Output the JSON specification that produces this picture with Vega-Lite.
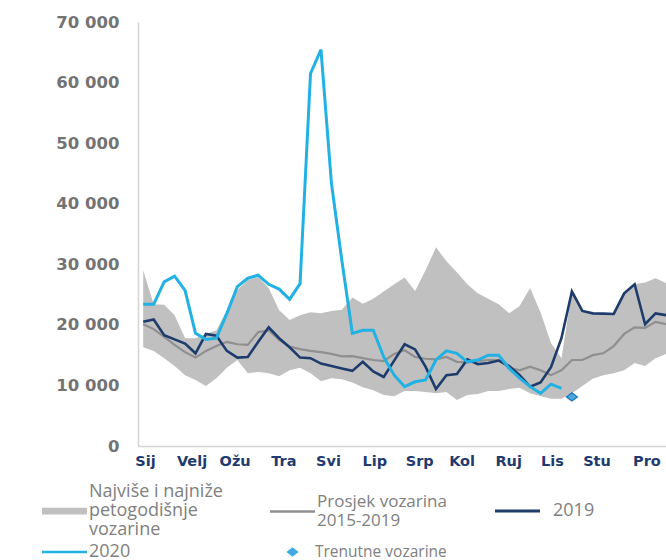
{
  "$schema": "https://vega.github.io/schema/vega-lite/v6.json",
  "width": 528,
  "height": 424,
  "autosize": {"type": "none"},
  "padding": {"left": 138, "top": 22, "right": 0, "bottom": 114},
  "background": "white",
  "config": {"view": {"stroke": null}, "font": "DejaVu Sans"},
  "datasets": {
    "band": [
      {"w": 0, "lo": 16300, "hi": 29000}, {"w": 1, "lo": 15700, "hi": 23400}, {"w": 2, "lo": 14500, "hi": 23300},
      {"w": 3, "lo": 13200, "hi": 21600}, {"w": 4, "lo": 11700, "hi": 17800}, {"w": 5, "lo": 10900, "hi": 17800},
      {"w": 6, "lo": 9900, "hi": 18500}, {"w": 7, "lo": 11200, "hi": 19100}, {"w": 8, "lo": 12900, "hi": 22400},
      {"w": 9, "lo": 14200, "hi": 25700}, {"w": 10, "lo": 12000, "hi": 27400}, {"w": 11, "lo": 12200, "hi": 27900},
      {"w": 12, "lo": 12000, "hi": 26100}, {"w": 13, "lo": 11500, "hi": 22400}, {"w": 14, "lo": 12500, "hi": 20800},
      {"w": 15, "lo": 12900, "hi": 21600}, {"w": 16, "lo": 12000, "hi": 22100}, {"w": 17, "lo": 10700, "hi": 21900},
      {"w": 18, "lo": 11200, "hi": 22300}, {"w": 19, "lo": 11000, "hi": 22500}, {"w": 20, "lo": 10500, "hi": 24500},
      {"w": 21, "lo": 9700, "hi": 23500}, {"w": 22, "lo": 9200, "hi": 24300}, {"w": 23, "lo": 8400, "hi": 25500},
      {"w": 24, "lo": 8200, "hi": 26700}, {"w": 25, "lo": 9100, "hi": 27800}, {"w": 26, "lo": 9100, "hi": 25600},
      {"w": 27, "lo": 8900, "hi": 29000}, {"w": 28, "lo": 8700, "hi": 32800}, {"w": 29, "lo": 8900, "hi": 30500},
      {"w": 30, "lo": 7600, "hi": 28700}, {"w": 31, "lo": 8400, "hi": 26700}, {"w": 32, "lo": 8600, "hi": 25200},
      {"w": 33, "lo": 9100, "hi": 24300}, {"w": 34, "lo": 9100, "hi": 23400}, {"w": 35, "lo": 9400, "hi": 21900},
      {"w": 36, "lo": 9600, "hi": 23100}, {"w": 37, "lo": 8700, "hi": 26100}, {"w": 38, "lo": 8200, "hi": 22100},
      {"w": 39, "lo": 7800, "hi": 17000}, {"w": 40, "lo": 7800, "hi": 14500}, {"w": 41, "lo": 8700, "hi": 25500},
      {"w": 42, "lo": 9900, "hi": 22300}, {"w": 43, "lo": 11100, "hi": 21900}, {"w": 44, "lo": 11700, "hi": 21850},
      {"w": 45, "lo": 12000, "hi": 21800}, {"w": 46, "lo": 12500, "hi": 25200}, {"w": 47, "lo": 13700, "hi": 26700},
      {"w": 48, "lo": 13200, "hi": 27000}, {"w": 49, "lo": 14500, "hi": 27700}, {"w": 50, "lo": 15200, "hi": 26900}
    ],
    "lines": [
      {"s": "avg", "w": 0, "v": 20100}, {"s": "avg", "w": 1, "v": 19300}, {"s": "avg", "w": 2, "v": 18000},
      {"s": "avg", "w": 3, "v": 16700}, {"s": "avg", "w": 4, "v": 15500}, {"s": "avg", "w": 5, "v": 14600},
      {"s": "avg", "w": 6, "v": 15700}, {"s": "avg", "w": 7, "v": 16500}, {"s": "avg", "w": 8, "v": 17200},
      {"s": "avg", "w": 9, "v": 16800}, {"s": "avg", "w": 10, "v": 16700}, {"s": "avg", "w": 11, "v": 18800},
      {"s": "avg", "w": 12, "v": 19100}, {"s": "avg", "w": 13, "v": 17500}, {"s": "avg", "w": 14, "v": 16400},
      {"s": "avg", "w": 15, "v": 16000}, {"s": "avg", "w": 16, "v": 15700}, {"s": "avg", "w": 17, "v": 15500},
      {"s": "avg", "w": 18, "v": 15200}, {"s": "avg", "w": 19, "v": 14800}, {"s": "avg", "w": 20, "v": 14850},
      {"s": "avg", "w": 21, "v": 14500}, {"s": "avg", "w": 22, "v": 14200}, {"s": "avg", "w": 23, "v": 14000},
      {"s": "avg", "w": 24, "v": 15200}, {"s": "avg", "w": 25, "v": 15800}, {"s": "avg", "w": 26, "v": 14700},
      {"s": "avg", "w": 27, "v": 14400}, {"s": "avg", "w": 28, "v": 14300}, {"s": "avg", "w": 29, "v": 14700},
      {"s": "avg", "w": 30, "v": 13900}, {"s": "avg", "w": 31, "v": 13800}, {"s": "avg", "w": 32, "v": 14000},
      {"s": "avg", "w": 33, "v": 14200}, {"s": "avg", "w": 34, "v": 14200}, {"s": "avg", "w": 35, "v": 12900},
      {"s": "avg", "w": 36, "v": 12500}, {"s": "avg", "w": 37, "v": 13100}, {"s": "avg", "w": 38, "v": 12500},
      {"s": "avg", "w": 39, "v": 11700}, {"s": "avg", "w": 40, "v": 12500}, {"s": "avg", "w": 41, "v": 14200},
      {"s": "avg", "w": 42, "v": 14200}, {"s": "avg", "w": 43, "v": 15000}, {"s": "avg", "w": 44, "v": 15300},
      {"s": "avg", "w": 45, "v": 16500}, {"s": "avg", "w": 46, "v": 18500}, {"s": "avg", "w": 47, "v": 19600},
      {"s": "avg", "w": 48, "v": 19500}, {"s": "avg", "w": 49, "v": 20500}, {"s": "avg", "w": 50, "v": 20100},
      {"s": "2019", "w": 0, "v": 20500}, {"s": "2019", "w": 1, "v": 20900}, {"s": "2019", "w": 2, "v": 18300},
      {"s": "2019", "w": 3, "v": 17600}, {"s": "2019", "w": 4, "v": 16900}, {"s": "2019", "w": 5, "v": 15300},
      {"s": "2019", "w": 6, "v": 18500}, {"s": "2019", "w": 7, "v": 18200}, {"s": "2019", "w": 8, "v": 15700},
      {"s": "2019", "w": 9, "v": 14600}, {"s": "2019", "w": 10, "v": 14700}, {"s": "2019", "w": 11, "v": 17200},
      {"s": "2019", "w": 12, "v": 19600}, {"s": "2019", "w": 13, "v": 17800}, {"s": "2019", "w": 14, "v": 16300},
      {"s": "2019", "w": 15, "v": 14600}, {"s": "2019", "w": 16, "v": 14500}, {"s": "2019", "w": 17, "v": 13600},
      {"s": "2019", "w": 18, "v": 13200}, {"s": "2019", "w": 19, "v": 12800}, {"s": "2019", "w": 20, "v": 12400},
      {"s": "2019", "w": 21, "v": 13900}, {"s": "2019", "w": 22, "v": 12300}, {"s": "2019", "w": 23, "v": 11400},
      {"s": "2019", "w": 24, "v": 14100}, {"s": "2019", "w": 25, "v": 16800}, {"s": "2019", "w": 26, "v": 15950},
      {"s": "2019", "w": 27, "v": 13100}, {"s": "2019", "w": 28, "v": 9400}, {"s": "2019", "w": 29, "v": 11700},
      {"s": "2019", "w": 30, "v": 11900}, {"s": "2019", "w": 31, "v": 14300}, {"s": "2019", "w": 32, "v": 13500},
      {"s": "2019", "w": 33, "v": 13700}, {"s": "2019", "w": 34, "v": 14100}, {"s": "2019", "w": 35, "v": 13200},
      {"s": "2019", "w": 36, "v": 11700}, {"s": "2019", "w": 37, "v": 9800}, {"s": "2019", "w": 38, "v": 10500},
      {"s": "2019", "w": 39, "v": 13000}, {"s": "2019", "w": 40, "v": 17800}, {"s": "2019", "w": 41, "v": 25500},
      {"s": "2019", "w": 42, "v": 22300}, {"s": "2019", "w": 43, "v": 21900}, {"s": "2019", "w": 44, "v": 21850},
      {"s": "2019", "w": 45, "v": 21800}, {"s": "2019", "w": 46, "v": 25200}, {"s": "2019", "w": 47, "v": 26700},
      {"s": "2019", "w": 48, "v": 20100}, {"s": "2019", "w": 49, "v": 21900}, {"s": "2019", "w": 50, "v": 21600},
      {"s": "2020", "w": 0, "v": 23400}, {"s": "2020", "w": 1, "v": 23400}, {"s": "2020", "w": 2, "v": 27100},
      {"s": "2020", "w": 3, "v": 28050}, {"s": "2020", "w": 4, "v": 25700}, {"s": "2020", "w": 5, "v": 18600},
      {"s": "2020", "w": 6, "v": 17600}, {"s": "2020", "w": 7, "v": 17800}, {"s": "2020", "w": 8, "v": 21900},
      {"s": "2020", "w": 9, "v": 26300}, {"s": "2020", "w": 10, "v": 27700}, {"s": "2020", "w": 11, "v": 28200},
      {"s": "2020", "w": 12, "v": 26700}, {"s": "2020", "w": 13, "v": 25900}, {"s": "2020", "w": 14, "v": 24200},
      {"s": "2020", "w": 15, "v": 26800}, {"s": "2020", "w": 16, "v": 61500}, {"s": "2020", "w": 17, "v": 65450},
      {"s": "2020", "w": 18, "v": 43400}, {"s": "2020", "w": 19, "v": 30600}, {"s": "2020", "w": 20, "v": 18600},
      {"s": "2020", "w": 21, "v": 19100}, {"s": "2020", "w": 22, "v": 19100}, {"s": "2020", "w": 23, "v": 14700},
      {"s": "2020", "w": 24, "v": 11700}, {"s": "2020", "w": 25, "v": 9800}, {"s": "2020", "w": 26, "v": 10600},
      {"s": "2020", "w": 27, "v": 10900}, {"s": "2020", "w": 28, "v": 14200}, {"s": "2020", "w": 29, "v": 15700},
      {"s": "2020", "w": 30, "v": 15300}, {"s": "2020", "w": 31, "v": 13900}, {"s": "2020", "w": 32, "v": 14200},
      {"s": "2020", "w": 33, "v": 15000}, {"s": "2020", "w": 34, "v": 15000}, {"s": "2020", "w": 35, "v": 12800},
      {"s": "2020", "w": 36, "v": 11200}, {"s": "2020", "w": 37, "v": 9800}, {"s": "2020", "w": 38, "v": 8700},
      {"s": "2020", "w": 39, "v": 10200}, {"s": "2020", "w": 40, "v": 9500}
    ],
    "cur": [{"w": 41, "v": 8100}]
  },
  "encoding": {
    "x": {
      "field": "w", "type": "quantitative",
      "scale": {"domain": [-0.5, 50], "nice": false, "zero": false},
      "axis": {
        "title": null, "grid": false, "ticks": false,
        "values": [0.16, 4.62, 8.74, 13.4, 17.67, 22.1, 26.4, 30.45, 34.9, 39.1, 43.35, 48.13],
        "labelExpr": "datum.value < 2 ? 'Sij' : datum.value < 6 ? 'Velj' : datum.value < 10 ? 'Ožu' : datum.value < 15 ? 'Tra' : datum.value < 20 ? 'Svi' : datum.value < 24 ? 'Lip' : datum.value < 28 ? 'Srp' : datum.value < 32 ? 'Kol' : datum.value < 37 ? 'Ruj' : datum.value < 41 ? 'Lis' : datum.value < 46 ? 'Stu' : 'Pro'",
        "labelFont": "DejaVu Sans", "labelFontWeight": "bold", "labelFontSize": 14.5, "labelColor": "#1f3b6f",
        "labelPadding": 8, "labelOverlap": false, "labelFlush": false,
        "domainColor": "#d4d4d4", "domainWidth": 1.5
      }
    }
  },
  "layer": [
    {
      "data": {"name": "band"},
      "mark": {"type": "area", "opacity": 1},
      "encoding": {
        "y": {
          "field": "lo", "type": "quantitative",
          "scale": {"domain": [0, 70000], "nice": false},
          "axis": {
            "title": null, "grid": false, "ticks": false,
            "values": [0, 10000, 20000, 30000, 40000, 50000, 60000, 70000],
            "labelExpr": "replace(format(datum.value, ','), ',', ' ')",
            "labelFont": "DejaVu Sans", "labelFontWeight": "bold", "labelFontSize": 16.5, "labelColor": "#737373",
            "labelPadding": 19, "domainColor": "#d4d4d4", "domainWidth": 1.5
          }
        },
        "y2": {"field": "hi"},
        "color": {
          "datum": "band", "type": "nominal",
          "scale": {
            "domain": ["band", "avg", "2019", "2020", "cur"],
            "range": ["#c0c0c0", "#8f8f8f", "#1d3c6c", "#21b1e3", "#45a9e1"]
          },
          "legend": {
            "orient": "none", "legendX": -96, "legendY": 461, "direction": "horizontal", "columns": 3,
            "title": null, "padding": 0, "gridAlign": "each", "columnPadding": 42, "rowPadding": 4,
            "labelFont": "Open Sans", "labelFontSize": 18, "labelColor": "#808080", "labelLimit": 400,
            "labelOffset": 0, "symbolSize": 2025,
            "labelExpr": "datum.value == 'band' ? ['Najviše i najniže', 'petogodišnje', 'vozarine'] : datum.value == 'avg' ? ['Prosjek vozarina', '2015-2019'] : datum.value == 'cur' ? 'Trenutne vozarine' : datum.label",
            "encode": {
              "symbols": {
                "update": {
                  "shape": {"signal": "datum.value == 'band' ? 'M-1,-0.15H1V0.15H-1Z' : datum.value == 'cur' ? 'M0,-0.18L0.23,0L0,0.18L-0.23,0Z' : 'stroke'"},
                  "fill": {"signal": "datum.value == 'band' ? '#c0c0c0' : datum.value == 'cur' ? '#45a9e1' : 'transparent'"},
                  "stroke": {"signal": "datum.value == 'band' ? 'transparent' : datum.value == 'cur' ? '#2370b8' : datum.value == 'avg' ? '#8f8f8f' : datum.value == '2019' ? '#1d3c6c' : '#21b1e3'"},
                  "strokeWidth": {"signal": "datum.value == 'cur' ? 1.2 : datum.value == 'band' ? 0 : datum.value == '2019' ? 3 : 2.5"},
                  "size": {"value": 2025},
                  "opacity": {"value": 1},
                  "x": {"value": 22.5},
                  "y": {"signal": "datum.size * 0.5 + (datum.value == 'band' ? 19 : datum.value == 'avg' ? 9.5 : 0)"}
                }
              },
              "labels": {"update": {"lineHeight": {"value": 19}, "x": {"signal": "datum.value == 'cur' ? 45 : datum.value == '2019' ? 58 : 47"}, "fontSize": {"signal": "datum.value == 'cur' ? 15.5 : datum.value == 'avg' ? 17 : 18"}}}
            }
          }
        }
      }
    },
    {
      "data": {"name": "lines"},
      "mark": {"type": "line", "strokeJoin": "miter"},
      "encoding": {
        "y": {"field": "v", "type": "quantitative"},
        "color": {
          "field": "s", "type": "nominal",
          "legend": {
            "orient": "none", "legendX": -96, "legendY": 461, "direction": "horizontal", "columns": 3,
            "title": null, "padding": 0, "gridAlign": "each", "columnPadding": 42, "rowPadding": 4,
            "labelFont": "Open Sans", "labelFontSize": 18, "labelColor": "#808080", "labelLimit": 400,
            "labelOffset": 0, "symbolSize": 2025,
            "labelExpr": "datum.value == 'band' ? ['Najviše i najniže', 'petogodišnje', 'vozarine'] : datum.value == 'avg' ? ['Prosjek vozarina', '2015-2019'] : datum.value == 'cur' ? 'Trenutne vozarine' : datum.label",
            "encode": {
              "symbols": {
                "update": {
                  "shape": {"signal": "datum.value == 'band' ? 'M-1,-0.15H1V0.15H-1Z' : datum.value == 'cur' ? 'M0,-0.18L0.23,0L0,0.18L-0.23,0Z' : 'stroke'"},
                  "fill": {"signal": "datum.value == 'band' ? '#c0c0c0' : datum.value == 'cur' ? '#45a9e1' : 'transparent'"},
                  "stroke": {"signal": "datum.value == 'band' ? 'transparent' : datum.value == 'cur' ? '#2370b8' : datum.value == 'avg' ? '#8f8f8f' : datum.value == '2019' ? '#1d3c6c' : '#21b1e3'"},
                  "strokeWidth": {"signal": "datum.value == 'cur' ? 1.2 : datum.value == 'band' ? 0 : datum.value == '2019' ? 3 : 2.5"},
                  "size": {"value": 2025},
                  "opacity": {"value": 1},
                  "x": {"value": 22.5},
                  "y": {"signal": "datum.size * 0.5 + (datum.value == 'band' ? 19 : datum.value == 'avg' ? 9.5 : 0)"}
                }
              },
              "labels": {"update": {"lineHeight": {"value": 19}, "x": {"signal": "datum.value == 'cur' ? 45 : datum.value == '2019' ? 58 : 47"}, "fontSize": {"signal": "datum.value == 'cur' ? 15.5 : datum.value == 'avg' ? 17 : 18"}}}
            }
          }
        },
        "strokeWidth": {
          "field": "s", "type": "nominal",
          "scale": {"domain": ["avg", "2019", "2020"], "range": [2.2, 3, 3]},
          "legend": null
        },
        "order": {"field": "w", "type": "quantitative"}
      }
    },
    {
      "data": {"name": "cur"},
      "mark": {"type": "point", "shape": "M0,-0.75L1,0L0,0.75L-1,0Z", "filled": true, "size": 121, "stroke": "#2370b8", "strokeWidth": 1.2, "opacity": 1},
      "encoding": {
        "y": {"field": "v", "type": "quantitative"},
        "color": {
          "datum": "cur", "type": "nominal",
          "legend": {
            "orient": "none", "legendX": -96, "legendY": 461, "direction": "horizontal", "columns": 3,
            "title": null, "padding": 0, "gridAlign": "each", "columnPadding": 42, "rowPadding": 4,
            "labelFont": "Open Sans", "labelFontSize": 18, "labelColor": "#808080", "labelLimit": 400,
            "labelOffset": 0, "symbolSize": 2025,
            "labelExpr": "datum.value == 'band' ? ['Najviše i najniže', 'petogodišnje', 'vozarine'] : datum.value == 'avg' ? ['Prosjek vozarina', '2015-2019'] : datum.value == 'cur' ? 'Trenutne vozarine' : datum.label",
            "encode": {
              "symbols": {
                "update": {
                  "shape": {"signal": "datum.value == 'band' ? 'M-1,-0.15H1V0.15H-1Z' : datum.value == 'cur' ? 'M0,-0.18L0.23,0L0,0.18L-0.23,0Z' : 'stroke'"},
                  "fill": {"signal": "datum.value == 'band' ? '#c0c0c0' : datum.value == 'cur' ? '#45a9e1' : 'transparent'"},
                  "stroke": {"signal": "datum.value == 'band' ? 'transparent' : datum.value == 'cur' ? '#2370b8' : datum.value == 'avg' ? '#8f8f8f' : datum.value == '2019' ? '#1d3c6c' : '#21b1e3'"},
                  "strokeWidth": {"signal": "datum.value == 'cur' ? 1.2 : datum.value == 'band' ? 0 : datum.value == '2019' ? 3 : 2.5"},
                  "size": {"value": 2025},
                  "opacity": {"value": 1},
                  "x": {"value": 22.5},
                  "y": {"signal": "datum.size * 0.5 + (datum.value == 'band' ? 19 : datum.value == 'avg' ? 9.5 : 0)"}
                }
              },
              "labels": {"update": {"lineHeight": {"value": 19}, "x": {"signal": "datum.value == 'cur' ? 45 : datum.value == '2019' ? 58 : 47"}, "fontSize": {"signal": "datum.value == 'cur' ? 15.5 : datum.value == 'avg' ? 17 : 18"}}}
            }
          }
        }
      }
    }
  ]
}
